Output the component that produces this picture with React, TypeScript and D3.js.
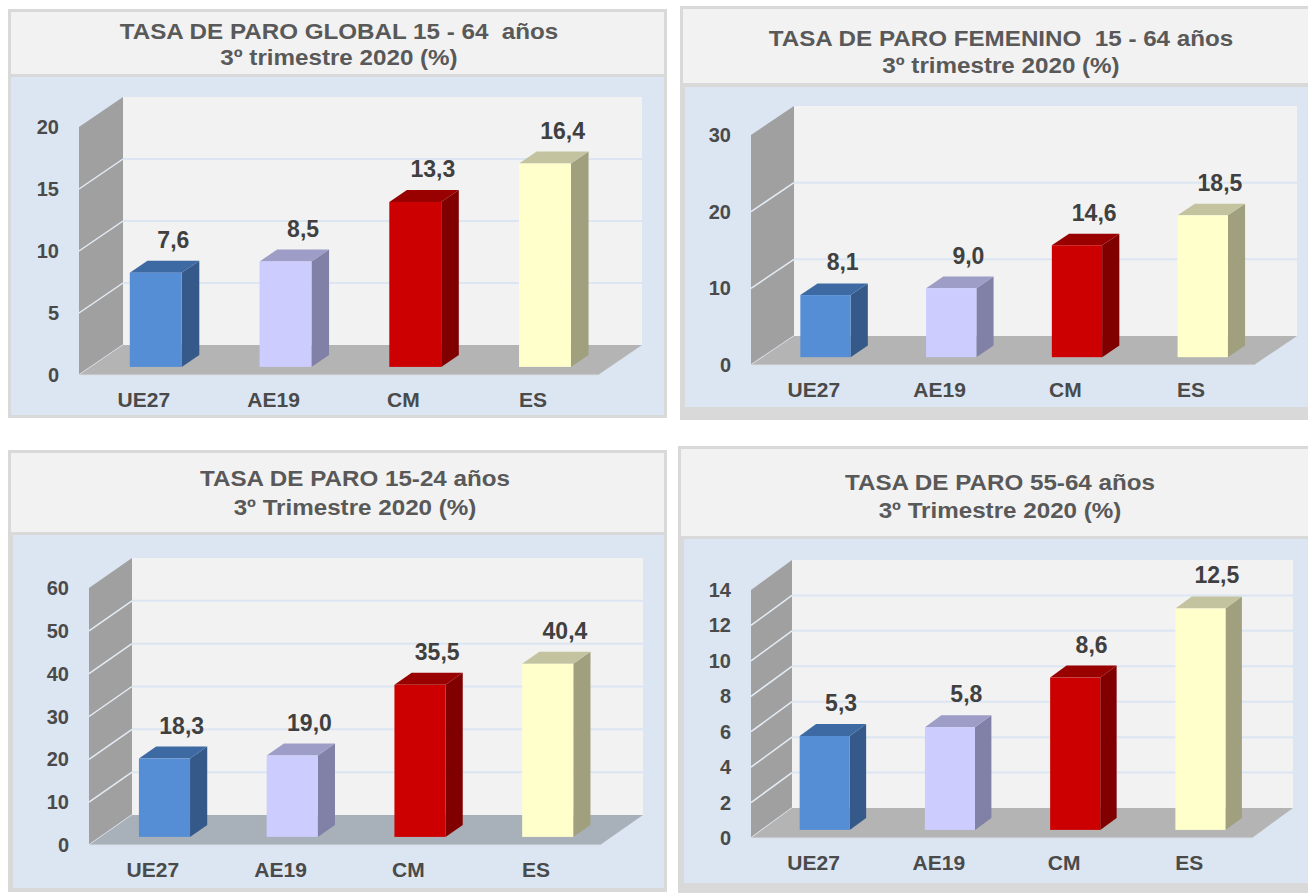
import React from "react";
import * as d3 from "d3";

const categories = ["UE27", "AE19", "CM", "ES"];

const globalValues = [7.6, 8.5, 13.3, 16.4];
const femeninoValues = [8.1, 9.0, 14.6, 18.5];
const jovenValues = [18.3, 19.0, 35.5, 40.4];
const mayorValues = [5.3, 5.8, 8.6, 12.5];

const globalTicks = [0, 5, 10, 15, 20];
const femeninoTicks = [0, 10, 20, 30];
const jovenTicks = [0, 10, 20, 30, 40, 50, 60];
const mayorTicks = [0, 2, 4, 6, 8, 10, 12, 14];

const globalTitle = ["TASA DE PARO GLOBAL 15 - 64  años", "3º trimestre 2020 (%)"];
const femeninoTitle = ["TASA DE PARO FEMENINO  15 - 64 años", "3º trimestre 2020 (%)"];
const jovenTitle = ["TASA DE PARO 15-24 años", "3º Trimestre 2020 (%)"];
const mayorTitle = ["TASA DE PARO 55-64 años", "3º Trimestre 2020 (%)"];

const barColors = [
  { front: "#558ED5", side: "#355A8A", top: "#3D6AA2" },
  { front: "#CCCCFF", side: "#8181A7", top: "#9D9DC7" },
  { front: "#CC0000", side: "#800000", top: "#990000" },
  { front: "#FFFFCC", side: "#A0A07F", top: "#C3C39F" },
];

const FONT = "'Liberation Sans', Arial, sans-serif";
const TEXT = "#4a4a4a";

type Layout = {
  frame: [number, number, number, number];
  titleBox: [number, number, number, number];
  plotBox: [number, number, number, number];
  titleX: number;
  t1: number;
  t2: number;
  x0: number;
  y0: number;
  W: number;
  H: number;
  dx: number;
  dy: number;
  floor: string;
};

const panels: { title: string[]; values: number[]; ticks: number[]; layout: Layout }[] = [
  {
    title: globalTitle,
    values: globalValues,
    ticks: globalTicks,
    layout: {
      frame: [8, 9, 659, 409],
      titleBox: [11, 12, 653, 62],
      plotBox: [11, 77, 653, 338],
      titleX: 339, t1: 39, t2: 65,
      x0: 79, y0: 375, W: 519, H: 248, dx: 44, dy: -30, floor: "#b4b4b4",
    },
  },
  {
    title: femeninoTitle,
    values: femeninoValues,
    ticks: femeninoTicks,
    layout: {
      frame: [680, 6, 640, 414],
      titleBox: [683, 9, 640, 74],
      plotBox: [685, 87, 640, 320],
      titleX: 1001, t1: 46, t2: 73,
      x0: 751, y0: 365, W: 503, H: 230, dx: 43, dy: -29, floor: "#b4b4b4",
    },
  },
  {
    title: jovenTitle,
    values: jovenValues,
    ticks: jovenTicks,
    layout: {
      frame: [8, 450, 659, 442],
      titleBox: [11, 453, 653, 79],
      plotBox: [13, 535, 651, 353],
      titleX: 355, t1: 486, t2: 515,
      x0: 89, y0: 845, W: 511, H: 257, dx: 43, dy: -30, floor: "#a8b0b9",
    },
  },
  {
    title: mayorTitle,
    values: mayorValues,
    ticks: mayorTicks,
    layout: {
      frame: [678, 446, 640, 447],
      titleBox: [681, 449, 640, 87],
      plotBox: [684, 539, 640, 344],
      titleX: 1000, t1: 490, t2: 518,
      x0: 751, y0: 838, W: 501, H: 248, dx: 41, dy: -30, floor: "#b4b4b4",
    },
  },
];

const fmt = (v: number) => d3.format(".1f")(v).replace(".", ",");

function pts(p: [number, number][]) {
  return p.map((q) => q.join(",")).join(" ");
}

function Stretched({ x, y, sx, children, ...rest }: any) {
  return (
    <text transform={`translate(${x},${y}) scale(${sx},1)`} x={0} y={0} {...rest}>
      {children}
    </text>
  );
}

function Panel({ title, values, ticks, layout }: { title: string[]; values: number[]; ticks: number[]; layout: Layout }) {
  const { frame, titleBox, plotBox, titleX, t1, t2, x0, y0, W, H, dx, dy, floor } = layout;
  const max = ticks[ticks.length - 1];
  const y = d3.scaleLinear().domain([0, max]).range([0, H]);
  const x = d3.scaleBand<string>().domain(categories).range([x0, x0 + W]).paddingInner(0.6).paddingOuter(0.3);
  const f1 = 0.27;
  const f2 = 0.67;
  const bw = x.bandwidth();
  const ddx = (f2 - f1) * dx;
  const ddy = (f2 - f1) * dy;

  return (
    <g>
      <rect x={frame[0]} y={frame[1]} width={frame[2]} height={frame[3]} fill="#d9d9d9" />
      <rect x={titleBox[0]} y={titleBox[1]} width={titleBox[2]} height={titleBox[3]} fill="#f2f2f2" />
      <rect x={plotBox[0]} y={plotBox[1]} width={plotBox[2]} height={plotBox[3]} fill="#dce6f2" />
      <Stretched x={titleX} y={t1} sx={1.1} textAnchor="middle" fontFamily={FONT} fontWeight="bold" fontSize={22} fill="#595959" style={{ whiteSpace: "pre" }}>
        {title[0]}
      </Stretched>
      <Stretched x={titleX} y={t2} sx={1.1} textAnchor="middle" fontFamily={FONT} fontWeight="bold" fontSize={22} fill="#595959" style={{ whiteSpace: "pre" }}>
        {title[1]}
      </Stretched>

      {/* back wall */}
      <rect x={x0 + dx} y={y0 + dy - H} width={W} height={H} fill="#f2f2f2" />
      {ticks.slice(1, -1).map((t) => (
        <line key={"g" + t} x1={x0 + dx} x2={x0 + dx + W} y1={y0 + dy - y(t)} y2={y0 + dy - y(t)} stroke="#dce6f2" strokeWidth={2} />
      ))}
      {/* side wall */}
      <polygon
        points={pts([
          [x0, y0],
          [x0, y0 - H],
          [x0 + dx, y0 - H + dy],
          [x0 + dx, y0 + dy],
        ])}
        fill="#a0a0a0"
      />
      {ticks.slice(0, -1).map((t) => (
        <line key={"s" + t} x1={x0} x2={x0 + dx} y1={y0 - y(t)} y2={y0 - y(t) + dy} stroke="#e4ecf5" strokeWidth={1.5} />
      ))}
      {/* floor */}
      <polygon
        points={pts([
          [x0, y0],
          [x0 + W, y0],
          [x0 + W + dx, y0 + dy],
          [x0 + dx, y0 + dy],
        ])}
        fill={floor}
      />
      <line x1={x0} x2={x0 + W} y1={y0} y2={y0} stroke="#d8dde3" strokeWidth={1} />

      {/* bars */}
      {categories.map((c, i) => {
        const xl = (x(c) as number) + f1 * dx;
        const xr = xl + bw;
        const yb = y0 + f1 * dy;
        const yt = yb - y(values[i]);
        const col = barColors[i];
        return (
          <g key={c}>
            <polygon points={pts([[xr, yb], [xr, yt], [xr + ddx, yt + ddy], [xr + ddx, yb + ddy]])} fill={col.side} />
            <polygon points={pts([[xl, yt], [xr, yt], [xr + ddx, yt + ddy], [xl + ddx, yt + ddy]])} fill={col.top} />
            <rect x={xl} y={yt} width={bw} height={yb - yt} fill={col.front} />
            <text x={xl + bw / 2 + ddx} y={yt + ddy - 13} textAnchor="middle" fontFamily={FONT} fontWeight="bold" fontSize={23} fill="#404040">
              {fmt(values[i])}
            </text>
          </g>
        );
      })}

      {/* y tick labels */}
      {ticks.map((t) => (
        <text key={"t" + t} x={x0 - 20} y={y0 - y(t) + 7} textAnchor="end" fontFamily={FONT} fontWeight="bold" fontSize={20} fill={TEXT}>
          {t}
        </text>
      ))}
      {/* category labels */}
      {categories.map((c) => (
        <text key={"c" + c} x={(x(c) as number) + bw / 2} y={y0 + 32} textAnchor="middle" fontFamily={FONT} fontWeight="bold" fontSize={21} fill={TEXT}>
          {c}
        </text>
      ))}
    </g>
  );
}

export default function App() {
  return (
    <svg width={1308} height={895} style={{ position: "absolute", left: 0, top: 0, background: "#ffffff" }}>
      <rect x={0} y={0} width={1308} height={895} fill="#ffffff" />
      {panels.map((p, i) => (
        <Panel key={i} {...p} />
      ))}
    </svg>
  );
}
